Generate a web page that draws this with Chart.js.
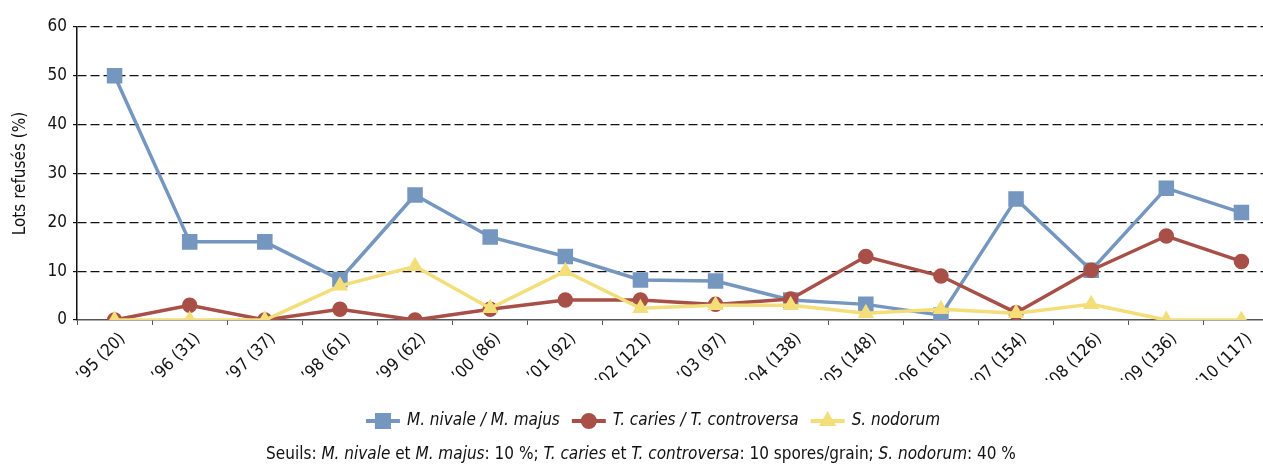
<!DOCTYPE html>
<html>
<head>
<meta charset="utf-8">
<script src="https://cdn.jsdelivr.net/npm/chart.js@4.4.1/dist/chart.umd.min.js"></script>
<style>
    html, body { margin: 0; padding: 0; background: #fff; overflow: hidden; }
    #wrap { width: 1291px; height: 465px; position: relative; }
</style>
</head>
<body>
<div id="wrap"><canvas id="lineChart"></canvas></div>
<script>
const annees = [
    "’95 (20)", "’96 (31)", "’97 (37)", "’98 (61)", "’99 (62)", "’00 (86)",
    "’01 (92)", "’02 (121)", "’03 (97)", "’04 (138)", "’05 (148)", "’06 (161)",
    "’07 (154)", "’08 (126)", "’09 (136)", "’10 (117)"
];

const nivaleData = [50, 16, 16, 8.3, 25.6, 17, 13, 8.2, 8, 4.1, 3.2, 1, 24.8, 10.2, 27, 22];
const cariesData = [0, 3, 0, 2.2, 0, 2.2, 4.1, 4.1, 3.2, 4.3, 13, 9, 1.5, 10.2, 17.2, 12];
const nodorumData = [0, 0, 0, 7, 11, 2.4, 10, 2.4, 3, 3, 1.4, 2.2, 1.4, 3.2, 0, 0];

const yTicks = [0, 10, 20, 30, 40, 50, 60];

const FONT = "'Liberation Sans Narrow', 'DejaVu Sans Condensed', 'Liberation Sans', sans-serif";

const seuils = [
    ["Seuils: ", false],
    ["M. nivale", true],
    [" et ", false],
    ["M. majus", true],
    [": 10 %; ", false],
    ["T. caries", true],
    [" et ", false],
    ["T. controversa", true],
    [": 10 spores/grain; ", false],
    ["S. nodorum", true],
    [": 40 %", false]
];

// legend (line + marker) and footer text under the chart
const bottomText = {
    id: "bottomText",
    afterDraw(chart) {
        const ctx = chart.ctx;
        ctx.save();
        ctx.textBaseline = "middle";

        const items = chart.data.datasets;
        ctx.font = "italic 17px " + FONT;
        let total = 0;
        items.forEach(ds => {
            total += 34 + 7 + ctx.measureText(ds.label).width + 12;
        });
        let x = 659 - total / 2;
        const y = 421;
        items.forEach(ds => {
            ctx.strokeStyle = ds.borderColor;
            ctx.fillStyle = ds.backgroundColor;
            ctx.lineWidth = 4;
            ctx.beginPath();
            ctx.moveTo(x, y);
            ctx.lineTo(x + 34, y);
            ctx.stroke();
            Chart.helpers.drawPoint(ctx, {
                pointStyle: ds.pointStyle,
                radius: ds.pointRadius,
                rotation: 0,
                borderWidth: 1
            }, x + 17, y);
            ctx.fillStyle = "#111";
            ctx.fillText(ds.label, x + 41, y);
            x += 34 + 7 + ctx.measureText(ds.label).width + 12;
        });

        let w = 0;
        seuils.forEach(s => {
            ctx.font = (s[1] ? "italic " : "") + "17px " + FONT;
            w += ctx.measureText(s[0]).width;
        });
        let fx = 641 - w / 2;
        seuils.forEach(s => {
            ctx.font = (s[1] ? "italic " : "") + "17px " + FONT;
            ctx.fillStyle = "#111";
            ctx.fillText(s[0], fx, 455);
            fx += ctx.measureText(s[0]).width;
        });
        ctx.restore();
    }
};

new Chart(
    document.getElementById("lineChart"),
    {
        type: "line",

        data: {
            labels: annees,

            datasets: [
                {
                    label: "M. nivale / M. majus",
                    data: nivaleData,
                    borderColor: "#7596be",
                    backgroundColor: "#7596be",
                    pointStyle: "rect",
                    pointRadius: 8.5,
                    borderWidth: 3.5,
                    order: 3
                },
                {
                    label: "T. caries / T. controversa",
                    data: cariesData,
                    borderColor: "#a84f47",
                    backgroundColor: "#a84f47",
                    pointStyle: "circle",
                    pointRadius: 6,
                    borderWidth: 3.5,
                    order: 2
                },
                {
                    label: "S. nodorum",
                    data: nodorumData,
                    borderColor: "#f3de7a",
                    backgroundColor: "#f3de7a",
                    pointStyle: "triangle",
                    pointRadius: 6,
                    borderWidth: 3.5,
                    order: 1
                }
            ]
        },

        options: {
            responsive: true,
            maintainAspectRatio: false,
            animation: false,
            layout: {
                padding: { top: 27, right: 2, bottom: 85, left: 0 }
            },
            elements: {
                line: { tension: 0 },
                point: { borderWidth: 1 }
            },
            plugins: {
                legend: { display: false },
                tooltip: { enabled: false }
            },
            scales: {
                x: {
                    offset: true,
                    grid: {
                        offset: true,
                        drawOnChartArea: false,
                        tickLength: 5,
                        color: "#555"
                    },
                    border: { color: "#555", width: 1.5 },
                    ticks: {
                        minRotation: 45,
                        maxRotation: 45,
                        autoSkip: false,
                        labelOffset: 8,
                        padding: 4,
                        color: "#111",
                        font: { family: FONT, size: 17 }
                    },
                    afterFit: s => { s.height = 60; }
                },
                y: {
                    min: 0,
                    max: 60,
                    afterBuildTicks: s => {
                        s.ticks = yTicks.map(v => ({ value: v }));
                    },
                    grid: {
                        color: c => c.tick.value === 0 ? "rgba(0,0,0,0)" : "#111",
                        tickColor: "#111",
                        tickLength: 4,
                        lineWidth: 1.2
                    },
                    border: { color: "#111", width: 1.5, dash: [9, 4] },
                    ticks: {
                        color: "#111",
                        padding: 6,
                        font: { family: FONT, size: 17 }
                    },
                    title: {
                        display: true,
                        text: "Lots refusés (%)",
                        color: "#111",
                        font: { family: FONT, size: 17 },
                        padding: { top: 10, bottom: 0 }
                    },
                    afterFit: s => { s.width = 77; }
                }
            }
        },

        plugins: [bottomText]
    }
);
</script>
</body>
</html>
